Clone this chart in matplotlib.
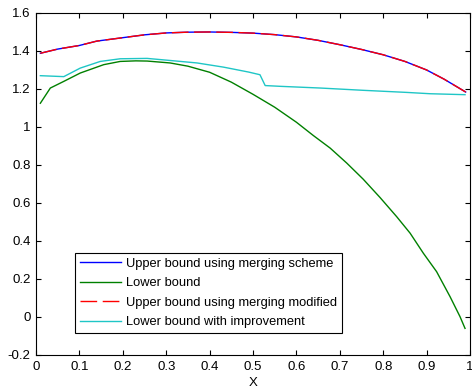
import matplotlib
matplotlib.use('Agg')
import matplotlib.pyplot as plt

plt.rcParams['font.family'] = ['Liberation Sans', 'DejaVu Sans']

# upper bound (merging scheme and modified version coincide)
x_upper = [0.01, 0.05, 0.1, 0.14, 0.2, 0.25, 0.3, 0.35, 0.4, 0.45, 0.5, 0.55,
           0.6, 0.65, 0.7, 0.75, 0.8, 0.85, 0.9, 0.94, 0.99]
y_upper = [1.388, 1.41, 1.429, 1.452, 1.47, 1.485, 1.495, 1.499, 1.5, 1.498,
           1.494, 1.486, 1.474, 1.456, 1.433, 1.408, 1.38, 1.345, 1.30, 1.252,
           1.184]

# lower bound
x_lower = [0.01, 0.033, 0.064, 0.102, 0.156, 0.194, 0.23, 0.256, 0.309, 0.35,
           0.4, 0.45, 0.5, 0.55, 0.6, 0.639, 0.6777, 0.716, 0.754, 0.793,
           0.831, 0.862, 0.8925, 0.923, 0.954, 0.977, 0.9885]
y_lower = [1.125, 1.205, 1.24, 1.284, 1.328, 1.345, 1.348, 1.347, 1.337, 1.32,
           1.288, 1.236, 1.172, 1.104, 1.025, 0.955, 0.889, 0.81, 0.725, 0.628,
           0.528, 0.441, 0.3355, 0.2386, 0.107, 0.0015, -0.06]

# lower bound with improvement
x_impr = [0.01, 0.064, 0.102, 0.148, 0.194, 0.256, 0.309, 0.371, 0.432, 0.49,
          0.516, 0.528, 0.5625, 0.655, 0.754, 0.854, 0.908, 0.9885]
y_impr = [1.27, 1.265, 1.31, 1.345, 1.359, 1.361, 1.35, 1.337, 1.315, 1.289,
          1.275, 1.218, 1.214, 1.205, 1.193, 1.182, 1.175, 1.17]

labels = ['Upper bound using merging scheme', 'Lower bound',
          'Upper bound using merging modified', 'Lower bound with improvement']

xticks = [i / 10 for i in range(11)]
xticklabels = ['0', '0.1', '0.2', '0.3', '0.4', '0.5', '0.6', '0.7', '0.8', '0.9', '1']
yticks = [-0.2, 0, 0.2, 0.4, 0.6, 0.8, 1.0, 1.2, 1.4, 1.6]
yticklabels = ['-0.2', '0', '0.2', '0.4', '0.6', '0.8', '1', '1.2', '1.4', '1.6']

fig = plt.figure(figsize=(4.72, 3.91), dpi=100)
ax = fig.add_axes([0.0763, 0.0921, 0.9195, 0.8747])

ax.plot(x_upper, y_upper, color='#0000ff', lw=1, label=labels[0])
ax.plot(x_lower, y_lower, color='#008000', lw=1, label=labels[1])
ax.plot(x_upper, y_upper, color='#ff0000', lw=1, ls=(0, (12, 4)), label=labels[2])
ax.plot(x_impr, y_impr, color='#1fc6c6', lw=1, label=labels[3])

ax.set_xlim(0, 1)
ax.set_ylim(-0.2, 1.6)
ax.set_xticks(xticks)
ax.set_xticklabels(xticklabels)
ax.set_yticks(yticks)
ax.set_yticklabels(yticklabels)
ax.tick_params(direction='in', top=True, right=True, length=3.6, labelsize=9.5,
               pad=4)
ax.set_xlabel('X', fontsize=9.5, labelpad=3)

leg = ax.legend(loc='lower left', bbox_to_anchor=(0.0905, 0.0644), fontsize=9.3,
                frameon=True, fancybox=False, edgecolor='black', framealpha=1,
                borderaxespad=0, handlelength=3.2, handletextpad=0.4,
                labelspacing=0.58, borderpad=0.35)
leg.get_frame().set_linewidth(0.8)

fig.savefig('out.png', dpi=100)
